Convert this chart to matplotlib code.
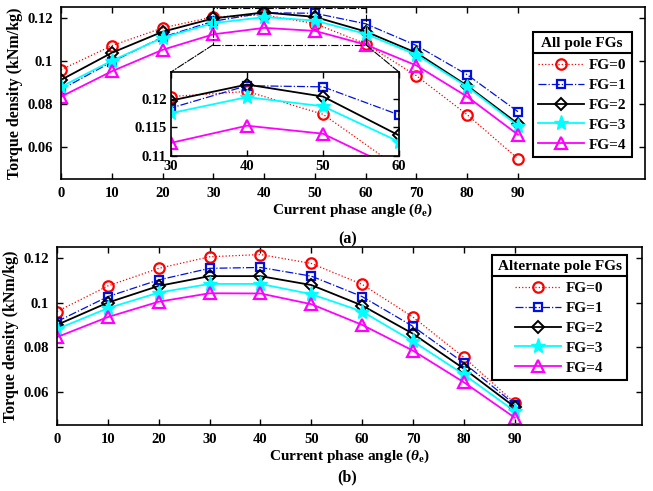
import numpy as np
import matplotlib
matplotlib.use("Agg")
import matplotlib.pyplot as plt
from matplotlib.patches import Rectangle, ConnectionPatch
from matplotlib.lines import Line2D

plt.rcParams['font.family'] = ['Liberation Serif', 'DejaVu Serif']
plt.rcParams['font.weight'] = 'bold'
plt.rcParams['mathtext.fontset'] = 'custom'
plt.rcParams['mathtext.rm'] = 'Liberation Serif:bold'
plt.rcParams['mathtext.it'] = 'Liberation Serif:italic:bold'
plt.rcParams['mathtext.bf'] = 'Liberation Serif:bold'

# current phase angle (electrical degrees)
angle = [0, 10, 20, 30, 40, 50, 60, 70, 80, 90]

# (a) all pole flux guides
all_fg0 = [0.0958, 0.1070, 0.1153, 0.1204, 0.1213, 0.1173, 0.1079, 0.0930, 0.0749, 0.0544]
all_fg1 = [0.0866, 0.0995, 0.1110, 0.1184, 0.1223, 0.1221, 0.1172, 0.1071, 0.0935, 0.0763]
all_fg2 = [0.0911, 0.1037, 0.1135, 0.1197, 0.1225, 0.1204, 0.1136, 0.1037, 0.0884, 0.0707]
all_fg3 = [0.0879, 0.1000, 0.1107, 0.1175, 0.1203, 0.1187, 0.1125, 0.1028, 0.0879, 0.0698]
all_fg4 = [0.0833, 0.0951, 0.1051, 0.1123, 0.1153, 0.1139, 0.1075, 0.0978, 0.0833, 0.0656]

# (b) alternate pole flux guides
alt_fg0 = [0.0960, 0.1075, 0.1154, 0.1206, 0.1216, 0.1176, 0.1082, 0.0935, 0.0754, 0.0550]
alt_fg1 = [0.0915, 0.1027, 0.1102, 0.1154, 0.1158, 0.1119, 0.1027, 0.0893, 0.0729, 0.0542]
alt_fg2 = [0.0900, 0.1000, 0.1075, 0.1119, 0.1119, 0.1079, 0.0987, 0.0860, 0.0703, 0.0531]
alt_fg3 = [0.0881, 0.0975, 0.1045, 0.1084, 0.1084, 0.1038, 0.0960, 0.0826, 0.0677, 0.0512]
alt_fg4 = [0.0845, 0.0935, 0.1004, 0.1042, 0.1041, 0.0993, 0.0900, 0.0784, 0.0642, 0.0483]

labels = ['FG=0', 'FG=1', 'FG=2', 'FG=3', 'FG=4']
styles = [
    dict(color='red', ls=':', lw=0.9, marker='o', ms=7.5, mfc='none', mew=1.6),
    dict(color='#0010e0', ls='-.', lw=0.9, marker='s', ms=6, mfc='none', mew=1.6),
    dict(color='black', ls='-', lw=1.3, marker='D', ms=6, mfc='none', mew=1.4),
    dict(color='cyan', ls='-', lw=1.3, marker='*', ms=11, mfc='cyan', mew=1.0),
    dict(color='magenta', ls='-', lw=1.3, marker='^', ms=8, mfc='none', mew=1.6),
]


def style_axes(ax, size=10.5):
    ax.tick_params(direction='in', top=True, right=True, length=4, width=1,
                   labelsize=size, pad=6)
    for s in ax.spines.values():
        s.set_linewidth(1.2)
    for t in ax.get_xticklabels() + ax.get_yticklabels():
        t.set_fontweight('bold')


def add_legend(fig, ax, handles, title, anchor):
    leg = ax.legend(handles, labels, title=title, loc='upper left',
                    bbox_to_anchor=anchor, borderaxespad=0, fancybox=False,
                    framealpha=1, edgecolor='black', fontsize=11,
                    title_fontproperties={'weight': 'bold', 'size': 11},
                    handlelength=3.0, numpoints=1, labelspacing=0.4,
                    handletextpad=0.3, borderpad=0.35)
    leg.get_frame().set_linewidth(1.5)
    leg._legend_box.sep = 6
    for t in leg.get_texts():
        t.set_fontweight('bold')
    return leg


fig = plt.figure(figsize=(6.53, 4.91), dpi=100)
ax1 = fig.add_axes([0.0934, 0.6354, 0.8943, 0.3503])
ax2 = fig.add_axes([0.0873, 0.1344, 0.8957, 0.3626])

h1 = []
for y, st in zip([all_fg0, all_fg1, all_fg2, all_fg3, all_fg4], styles):
    h1 += ax1.plot(angle, y, **st)
h2 = []
for y, st in zip([alt_fg0, alt_fg1, alt_fg2, alt_fg3, alt_fg4], styles):
    h2 += ax2.plot(angle, y, **st)

for ax in (ax1, ax2):
    ax.set_xlim(0, 115)
    ax.set_ylim(0.045, 0.125)
    ax.set_xticks(angle)
    ax.set_yticks([0.06, 0.08, 0.1, 0.12])
    ax.set_yticklabels(['0.06', '0.08', '0.1', '0.12'])
    ax.set_xlabel(r'Current phase angle ($\theta_{\rm e}$)', fontsize=11,
                  fontweight='bold', labelpad=1)
    ax.set_ylabel('Torque density (kNm/kg)', fontsize=11.5, fontweight='bold',
                  labelpad=3)
    style_axes(ax)

# zoomed view of the peak region
rect = Rectangle((30, 0.1075), 30, 0.0171, fill=False, ls='-.', lw=0.8,
                 ec='black', zorder=5)
ax1.add_patch(rect)
axin = fig.add_axes([0.2619, 0.6823, 0.3491, 0.1711])
for y, st in zip([all_fg0, all_fg1, all_fg2, all_fg3, all_fg4], styles):
    axin.plot(angle, y, **st)
axin.set_xlim(30, 60)
axin.set_ylim(0.11, 0.1247)
axin.set_xticks([30, 40, 50, 60])
axin.set_yticks([0.11, 0.115, 0.12])
axin.set_yticklabels(['0.11', '0.115', '0.12'])
style_axes(axin, size=10.5)
axin.tick_params(pad=3)
for xa, xb in [(30, 0), (60, 1)]:
    cp = ConnectionPatch(xyA=(xa, 0.1075), coordsA=ax1.transData,
                         xyB=(xb, 1), coordsB=axin.transAxes,
                         ls='-.', lw=0.8, color='black')
    fig.add_artist(cp)

leg1 = add_legend(fig, ax1, h1, 'All pole FGs', (0.808, 0.855))
leg2 = add_legend(fig, ax2, h2, 'Alternate pole FGs', (0.744, 0.955))

fig.text(0.532, 1 - 239 / 491, '(a)', ha='center', va='center',
         fontsize=11.5, fontweight='bold')
fig.text(0.532, 1 - 477 / 491, '(b)', ha='center', va='center',
         fontsize=11.5, fontweight='bold')

# divider line between legend title and entries
fig.canvas.draw()
W, H = fig.bbox.width, fig.bbox.height
for leg in (leg1, leg2):
    fb = leg.get_frame().get_window_extent()
    tb = leg.get_title().get_window_extent()
    yl = (tb.y0 - 2.5) / H
    fig.add_artist(Line2D([fb.x0 / W, fb.x1 / W], [yl, yl], color='black',
                          lw=1.5, transform=fig.transFigure, zorder=10))

fig.savefig('out.png', dpi=100)
